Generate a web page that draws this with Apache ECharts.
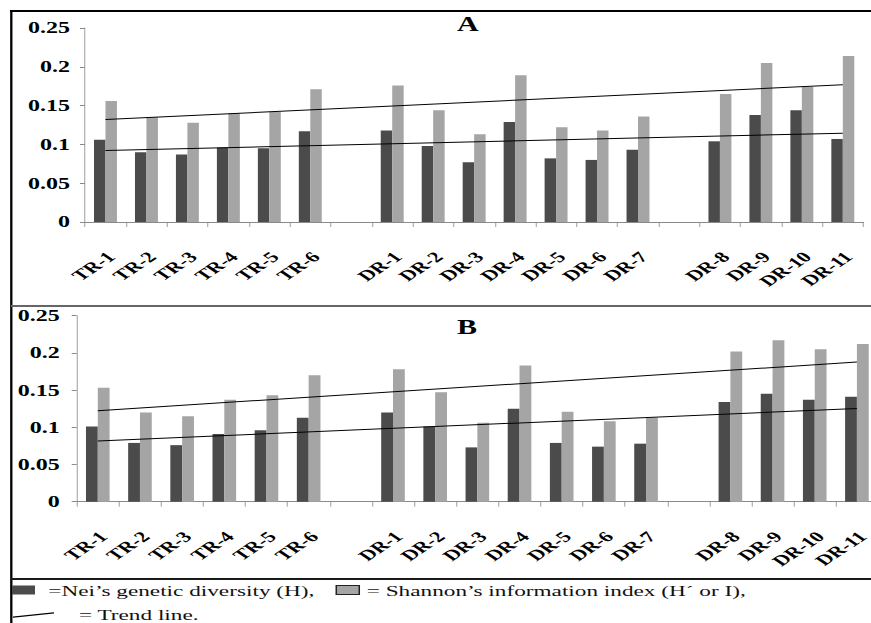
<!DOCTYPE html>
<html>
<head>
<meta charset="utf-8">
<script src="https://cdn.jsdelivr.net/npm/echarts@6/dist/echarts.min.js"></script>
<style>
html,body{margin:0;padding:0;background:#fff;overflow:hidden;width:871px;height:623px;}
#main{width:581px;height:623px;transform:scaleX(1.5);transform-origin:0 0;}
</style>
</head>
<body>
<div id="main"></div>
<script>
// ---------- data ----------
const categories = ['TR-1','TR-2','TR-3','TR-4','TR-5','TR-6','',
  'DR-1','DR-2','DR-3','DR-4','DR-5','DR-6','DR-7','',
  'DR-8','DR-9','DR-10','DR-11'];

// Panel A
const neiA     = [0.106,0.090,0.087,0.096,0.095,0.117,null,0.118,0.098,0.077,0.129,0.082,0.080,0.093,null,0.104,0.138,0.144,0.107];
const shannonA = [0.156,0.135,0.128,0.140,0.142,0.171,null,0.176,0.144,0.113,0.189,0.122,0.118,0.136,null,0.165,0.205,0.174,0.214];
// Panel B
const neiB     = [0.101,0.079,0.076,0.091,0.096,0.113,null,0.120,0.101,0.073,0.125,0.079,0.074,0.078,null,0.134,0.145,0.137,0.141];
const shannonB = [0.153,0.120,0.115,0.137,0.143,0.170,null,0.178,0.147,0.106,0.183,0.121,0.108,0.113,null,0.202,0.217,0.205,0.212];

// Trend lines: [value at first category, value at last category]
const trendNeiA     = [0.092, 0.1145];
const trendShannonA = [0.132, 0.177];
const trendNeiB     = [0.0815, 0.1254];
const trendShannonB = [0.1223, 0.1877];

const panelTitles = ['A', 'B'];
const nameH = 'Nei’s genetic diversity (H)';
const nameI = 'Shannon’s information index (H´ or I)';
const nameT = 'Trend line';
const legendTexts = {};
legendTexts[nameH] = '\u00a0=' + nameH + ',';
legendTexts[nameI] = '= ' + nameI + ',';
legendTexts[nameT] = '\u00a0\u00a0\u00a0= ' + nameT + '.';

// ---------- layout helpers ----------
const S = 1.5;               // horizontal stretch applied via CSS
const X = v => v / S;        // convert final px to pre-stretch px
const SERIF = '"Liberation Serif","Times New Roman",serif';
const DARK = '#4b4b4b', LIGHT = '#a5a5a5', AXIS = '#8a8a8a';

function trendData(ends) {
  return categories.map((c, i) => i === 0 ? ends[0] : (i === categories.length - 1 ? ends[1] : null));
}

const grids = [
  {left: X(85),   top: 28,    width: X(778.3), height: 194, outerBoundsMode: 'none', containLabel: false},
  {left: X(76.7), top: 315.7, width: X(801.3), height: 186, outerBoundsMode: 'none', containLabel: false}
];
const yLabelMargin = [X(15), X(17)];

const xAxes = grids.map((g, i) => ({
  type: 'category', gridIndex: i, data: categories, boundaryGap: true,
  axisLine: {show: true, lineStyle: {color: AXIS, width: 1}},
  axisTick: {show: true, interval: 0, length: 5, alignWithLabel: false, lineStyle: {color: AXIS, width: 1 / S}},
  axisLabel: {
    interval: 0, rotate: 45, margin: 36, align: 'right', verticalAlign: 'middle',
    padding: [10.4, -5.2, 0, 0],
    lineHeight: 15, fontFamily: SERIF, fontWeight: 'bold', fontSize: 15, color: '#000', hideOverlap: false
  },
  splitLine: {show: false}
}));

const yAxes = grids.map((g, i) => ({
  type: 'value', gridIndex: i, min: 0, max: 0.25, interval: 0.05,
  axisLine: {show: true, lineStyle: {color: AXIS, width: 1 / S}},
  axisTick: {show: true, length: X(5), lineStyle: {color: AXIS, width: 1}},
  axisLabel: {margin: yLabelMargin[i], fontFamily: SERIF, fontWeight: 'bold', fontSize: 16, color: '#000'},
  splitLine: {show: false}
}));

const panels = [
  {nei: neiA, sha: shannonA, tN: trendNeiA, tS: trendShannonA},
  {nei: neiB, sha: shannonB, tN: trendNeiB, tS: trendShannonB}
];
const series = [];
panels.forEach((p, i) => {
  series.push({name: nameH, type: 'bar', xAxisIndex: i, yAxisIndex: i, data: p.nei,
    barWidth: '28%', barGap: '0%', itemStyle: {color: DARK}});
  series.push({name: nameI, type: 'bar', xAxisIndex: i, yAxisIndex: i, data: p.sha,
    barWidth: '28%', barGap: '0%', itemStyle: {color: LIGHT}});
  [p.tN, p.tS].forEach(t => series.push({
    name: nameT, type: 'line', xAxisIndex: i, yAxisIndex: i, data: trendData(t),
    connectNulls: true, symbol: 'none', z: 5,
    lineStyle: {color: '#000', width: 1}, itemStyle: {color: '#000'}
  }));
});

const legendTextStyle = {fontFamily: SERIF, fontSize: 15.5, color: '#111'};
const option = {
  animation: false,
  backgroundColor: '#fff',
  title: [
    {text: panelTitles[0], left: X(457), top: 14, padding: 0,
     textStyle: {fontFamily: SERIF, fontWeight: 'bold', fontSize: 20, color: '#000'}},
    {text: panelTitles[1], left: X(457), top: 317, padding: 0,
     textStyle: {fontFamily: SERIF, fontWeight: 'bold', fontSize: 20, color: '#000'}}
  ],
  legend: [
    {
      data: [
        {name: nameH, icon: 'rect', itemStyle: {color: DARK, borderWidth: 0}},
        {name: nameI, icon: 'rect', itemStyle: {color: LIGHT, borderColor: '#222', borderWidth: 1}}
      ],
      left: X(12), top: 582, padding: 0, orient: 'horizontal',
      itemWidth: X(23), itemHeight: 9, itemGap: X(21), selectedMode: false,
      formatter: n => legendTexts[n], textStyle: legendTextStyle
    },
    {
      data: [{name: nameT, icon: 'path://M0,5L40,0L40,1.4L0,6.4Z', itemStyle: {color: '#000', borderWidth: 0}}],
      left: X(13), top: 607, padding: 0, symbolKeepAspect: false,
      itemWidth: X(41), itemHeight: 5.5, selectedMode: false,
      formatter: n => legendTexts[n], textStyle: legendTextStyle
    }
  ],
  grid: grids,
  xAxis: xAxes,
  yAxis: yAxes,
  series: series,
  graphic: [
    {type: 'line', shape: {x1: X(10), y1: 11, x2: X(880), y2: 11}, style: {stroke: '#000', lineWidth: 2.2}, silent: true},
    {type: 'line', shape: {x1: X(11.3), y1: 10, x2: X(11.3), y2: 630}, style: {stroke: '#000', lineWidth: 2.3 / S}, silent: true},
    {type: 'line', shape: {x1: X(11), y1: 306, x2: X(880), y2: 306}, style: {stroke: '#666', lineWidth: 2}, silent: true},
    {type: 'line', shape: {x1: X(11), y1: 579, x2: X(880), y2: 579}, style: {stroke: '#1a1a1a', lineWidth: 1.8}, silent: true}
  ]
};

const chart = echarts.init(document.getElementById('main'), null, {renderer: 'svg'});
chart.setOption(option);
</script>
</body>
</html>
